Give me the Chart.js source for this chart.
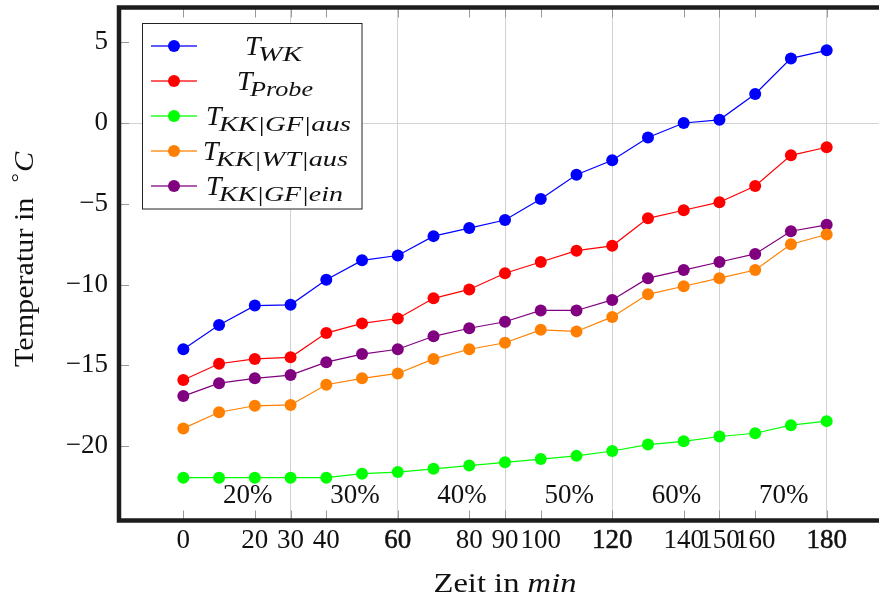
<!DOCTYPE html>
<html><head><meta charset="utf-8">
<script src="https://cdn.jsdelivr.net/npm/chart.js@4/dist/chart.umd.min.js"></script>
<style>html,body{margin:0;padding:0;overflow:hidden;background:#fff}</style>
</head><body>
<canvas id="c" width="897" height="599"></canvas>
<script>
// ---- data ----
const minutes = [0,10,20,30,40,50,60,70,80,90,100,110,120,130,140,150,160,170,180];
const tWK      = [-14.0,-12.5,-11.3,-11.25,-9.7,-8.5,-8.2,-7.0,-6.5,-6.0,-4.7,-3.2,-2.3,-0.9,0.0,0.2,1.8,4.0,4.5];
const tProbe   = [-15.9,-14.9,-14.6,-14.5,-13.0,-12.4,-12.1,-10.85,-10.3,-9.3,-8.6,-7.9,-7.6,-5.9,-5.4,-4.9,-3.9,-2.0,-1.5];
const tKKGFaus = [-21.95,-21.95,-21.95,-21.95,-21.95,-21.7,-21.6,-21.4,-21.2,-21.0,-20.8,-20.6,-20.3,-19.9,-19.7,-19.4,-19.2,-18.7,-18.45];
const tKKWTaus = [-18.9,-17.9,-17.5,-17.45,-16.2,-15.8,-15.5,-14.6,-14.0,-13.6,-12.8,-12.9,-12.0,-10.6,-10.1,-9.6,-9.1,-7.5,-6.9];
const tKKGFein = [-16.9,-16.1,-15.8,-15.6,-14.8,-14.3,-14.0,-13.2,-12.7,-12.3,-11.6,-11.6,-10.95,-9.6,-9.1,-8.6,-8.1,-6.7,-6.3];

const seriesNames = ['WK','Probe','KK|GF|aus','KK|WT|aus','KK|GF|ein'];
const seriesColors = ['#0000ff','#ff0000','#00ff00','#ff8000','#800080'];

const xTickValues = [0,20,30,40,60,80,90,100,120,140,150,160,180];
const xGridValues = [30,60,90,120,150,180];
const xDoubleTicks = [60,120,180];
const yTickValues = [-20,-15,-10,-5,0,5];
const yGridValues = [0];

const percentLabels = ['20%','30%','40%','50%','60%','70%'];
const percentX = [18,48,78,108,138,168];
const percentY = -23.5;

const X_MIN = -18, X_MAX = 198, Y_MIN = -24.6, Y_MAX = 7.15;

// ---- build ----
const allSeries = [tWK,tProbe,tKKGFaus,tKKWTaus,tKKGFein];
const datasets = allSeries.map((vals,i)=>({
  label: 'T_' + seriesNames[i],
  data: minutes.map((m,j)=>({x:m,y:vals[j]})),
  borderColor: seriesColors[i],
  backgroundColor: seriesColors[i],
  borderWidth: 1.2,
  pointRadius: 6,
  pointHoverRadius: 6,
  pointBorderWidth: 0,
  tension: 0,
  clip: false
}));

const SERIF = '"Liberation Serif", "Times New Roman", serif';
const fmt = v => (v < 0 ? '\u2212' + Math.abs(v) : String(v));

function fitText(ctx, text, x, y, width) {
  const w = ctx.measureText(text).width;
  const sx = width ? width / w : 1;
  ctx.save();
  ctx.translate(x, y);
  ctx.scale(sx, 1);
  ctx.textAlign = 'left';
  ctx.fillText(text, 0, 0);
  ctx.restore();
}

const decor = {
  id: 'decor',
  afterDraw(chart) {
    const {ctx, chartArea: a, scales} = chart;
    const xs = scales.x, ys = scales.y;
    ctx.save();
    // inner tick marks
    ctx.strokeStyle = '#9a9a9a';
    ctx.lineWidth = 1;
    const TL = 10;
    xs.ticks.forEach(t => {
      const px = Math.round(xs.getPixelForValue(t.value)) + 0.5;
      ctx.beginPath();
      ctx.moveTo(px, a.bottom); ctx.lineTo(px, a.bottom - TL);
      ctx.moveTo(px, a.top); ctx.lineTo(px, a.top + TL);
      ctx.stroke();
    });
    ys.ticks.forEach(t => {
      const py = Math.round(ys.getPixelForValue(t.value)) + 0.5;
      ctx.beginPath();
      ctx.moveTo(a.left, py); ctx.lineTo(a.left + TL, py);
      ctx.moveTo(a.right, py); ctx.lineTo(a.right - TL, py);
      ctx.stroke();
    });
    // frame
    ctx.strokeStyle = '#1c1c1c';
    ctx.lineWidth = 4.5;
    ctx.strokeRect(a.left, a.top, a.right - a.left, a.bottom - a.top);

    // percent labels
    ctx.fillStyle = '#111';
    ctx.font = '27px ' + SERIF;
    ctx.textBaseline = 'alphabetic';
    ctx.textAlign = 'center';
    percentLabels.forEach((s,i) => {
      ctx.fillText(s, xs.getPixelForValue(percentX[i]), ys.getPixelForValue(percentY));
    });

    // legend
    const bx = 142.5, by = 23.5, bw = 219.5, bh = 185.5;
    ctx.fillStyle = '#fff';
    ctx.fillRect(bx, by, bw, bh);
    ctx.strokeStyle = '#222';
    ctx.lineWidth = 1;
    ctx.strokeRect(bx, by, bw, bh);
    const rowY = [46,81,116,151,186];
    const tStart = [245,237,206,203,206];
    const subEnd = [302,313,351,348,343];
    seriesNames.forEach((name,i) => {
      const cy = rowY[i];
      ctx.strokeStyle = seriesColors[i];
      ctx.globalAlpha = 0.85;
      ctx.lineWidth = 1.6;
      ctx.beginPath(); ctx.moveTo(151, cy); ctx.lineTo(197, cy); ctx.stroke();
      ctx.globalAlpha = 1;
      ctx.fillStyle = seriesColors[i];
      ctx.beginPath(); ctx.arc(174, cy, 6, 0, Math.PI*2); ctx.fill();
      ctx.fillStyle = '#111';
      ctx.textBaseline = 'alphabetic';
      ctx.textAlign = 'left';
      ctx.font = 'italic 28px ' + SERIF;
      ctx.fillText('T', tStart[i], cy + 9);
      ctx.font = 'italic 20px ' + SERIF;
      const sx = tStart[i] + 13;
      fitText(ctx, name, sx, cy + 15, subEnd[i] - sx);
    });

    // x title
    ctx.fillStyle = '#111';
    ctx.textBaseline = 'alphabetic';
    {
      const p1 = 'Zeit in ', p2 = 'min';
      ctx.font = '28px ' + SERIF; const w1 = ctx.measureText(p1).width;
      ctx.font = 'italic 28px ' + SERIF; const w2 = ctx.measureText(p2).width;
      const target = 143, s = target / (w1 + w2);
      const cx = (a.left + a.right) / 2;
      ctx.save();
      ctx.translate(cx - target/2, 592);
      ctx.scale(s, 1);
      ctx.textAlign = 'left';
      ctx.font = '28px ' + SERIF; ctx.fillText(p1, 0, 0);
      ctx.font = 'italic 28px ' + SERIF; ctx.fillText(p2, w1, 0);
      ctx.restore();
    }
    // y title
    {
      const p1 = 'Temperatur in  ', p2 = '\u00B0', p3 = 'C';
      ctx.font = '28px ' + SERIF; const w1 = ctx.measureText(p1).width;
      ctx.font = '22px ' + SERIF; const w2 = ctx.measureText(p2).width;
      ctx.font = 'italic 28px ' + SERIF; const w3 = ctx.measureText(p3).width;
      const target = 214, s = target / (w1 + w2 + w3);
      const cy = 260;
      ctx.save();
      ctx.translate(33, cy + target/2);
      ctx.rotate(-Math.PI/2);
      ctx.scale(s, 1);
      ctx.textAlign = 'left';
      ctx.font = '28px ' + SERIF; ctx.fillText(p1, 0, 0);
      ctx.font = '22px ' + SERIF; ctx.fillText(p2, w1, -7);
      ctx.font = 'italic 28px ' + SERIF; ctx.fillText(p3, w1 + w2 + 1, 0);
      ctx.restore();
    }
    ctx.restore();
  }
};

new Chart(document.getElementById('c'), {
  type: 'line',
  data: { datasets },
  plugins: [decor],
  options: {
    responsive: false,
    animation: false,
    events: [],
    layout: { padding: { top: 7.5, right: 0.5, left: 0, bottom: 0 } },
    plugins: { legend: { display: false }, tooltip: { enabled: false } },
    scales: {
      x: {
        type: 'linear', min: X_MIN, max: X_MAX, position: 'bottom',
        afterBuildTicks: s => { s.ticks = xTickValues.map(v => ({value: v})); },
        afterFit: s => { s.height = 78.5; s.paddingLeft = 0; s.paddingRight = 0; },
        border: { display: false },
        grid: {
          drawTicks: false, lineWidth: 1,
          color: c => (c.tick && xGridValues.includes(c.tick.value)) ? '#d2d2d2' : 'rgba(0,0,0,0)'
        },
        ticks: {
          autoSkip: false, maxRotation: 0, minRotation: 0, padding: 4,
          color: '#111',
          font: { family: SERIF, size: 27 },
          textStrokeColor: '#111',
          textStrokeWidth: c => (c.tick && xDoubleTicks.includes(c.tick.value)) ? 0.5 : 0,
          callback: v => fmt(v)
        }
      },
      y: {
        type: 'linear', min: Y_MIN, max: Y_MAX, position: 'left',
        afterBuildTicks: s => { s.ticks = yTickValues.map(v => ({value: v})); },
        afterFit: s => { s.width = 119; s.paddingTop = 0; s.paddingBottom = 0; },
        border: { display: false },
        grid: {
          drawTicks: false, lineWidth: 1,
          color: c => (c.tick && yGridValues.includes(c.tick.value)) ? '#d2d2d2' : 'rgba(0,0,0,0)'
        },
        ticks: {
          padding: 11, color: '#111',
          font: { family: SERIF, size: 27 },
          callback: v => fmt(v)
        }
      }
    }
  }
});
</script>
</body></html>
